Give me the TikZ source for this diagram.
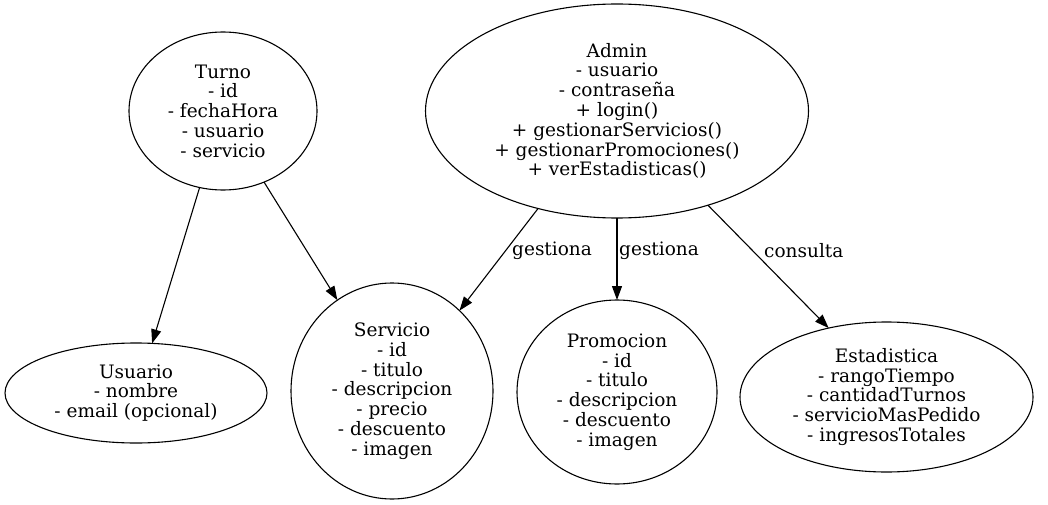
\documentclass[tikz,border=0pt]{standalone}
\usepackage{fontspec}
\setmainfont{DejaVu Serif}
\usetikzlibrary{shapes.geometric,arrows.meta}
\begin{document}
\begin{tikzpicture}[x=1pt,y=-1pt,
  cls/.style={draw,ellipse,line width=1.1pt,inner sep=0pt,outer sep=0pt,align=center,
    font=\fontsize{18.5}{19.8}\selectfont},
  rel/.style={line width=1.1pt,-{Triangle[length=14pt,width=10pt]}},
  lbl/.style={anchor=west,inner sep=0pt,font=\fontsize{18.5}{19.8}\selectfont}]
\useasboundingbox (0,0) rectangle (1048,505);
\node[cls,minimum width=188,minimum height=158] (turno) at (223,111)
  {Turno\\- id\\- fechaHora\\- usuario\\- servicio};
\node[cls,minimum width=383,minimum height=214] (admin) at (617,111)
  {Admin\\- usuario\\- contraseña\\+ login()\\+ gestionarServicios()\\+ gestionarPromociones()\\+ verEstadisticas()};
\node[cls,minimum width=262,minimum height=100] (usuario) at (136,393)
  {Usuario\\- nombre\\- email (opcional)};
\node[cls,minimum width=202,minimum height=216] (servicio) at (392,391)
  {Servicio\\- id\\- titulo\\- descripcion\\- precio\\- descuento\\- imagen};
\node[cls,minimum width=200,minimum height=184] (promocion) at (617,392)
  {Promocion\\- id\\- titulo\\- descripcion\\- descuento\\- imagen};
\node[cls,minimum width=293,minimum height=150] (estadistica) at (886.5,397)
  {Estadistica\\- rangoTiempo\\- cantidadTurnos\\- servicioMasPedido\\- ingresosTotales};
\draw[rel] (turno.253.4) -- (usuario.72.3);
\draw[rel] (turno.300) -- (servicio.121.8);
\draw[rel] (admin.231.7) -- (servicio.50.9);
\draw[rel] (admin.270) -- (promocion.90);
\draw[rel] (admin.314.5) -- (estadistica.130.5);
\node[lbl] (l1) at (512,251) {gestiona};
\node[lbl] (l2) at (619,251) {gestiona};
\node[lbl] (l3) at (764,251) {consulta};
\end{tikzpicture}
\end{document}
